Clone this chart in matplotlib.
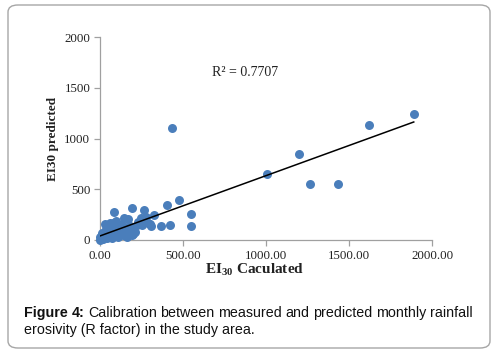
import matplotlib
matplotlib.use("Agg")
import matplotlib.pyplot as plt
from matplotlib.patches import FancyBboxPatch
import numpy as np

# Data (EI30 calculated vs predicted)
x_calc = [1890, 1620, 1199, 1008, 1263, 1436, 436,
          476, 405, 546, 546, 420, 368, 310, 267, 325, 191, 84, 144, 171,
          244, 211, 290, 251, 30, 78, 90,
          0, 5, 15, 20, 25, 30, 40, 45, 50, 55, 60, 65, 70, 75, 80, 90,
          100, 105, 110, 120, 130, 140, 150, 160, 170, 180, 190, 200, 220,
          230, 260, 280, 300, 125, 95, 60, 35, 15, 0, 10, 200]
y_pred = [1240, 1130, 844, 650, 555, 555, 1100,
          394, 345, 256, 136, 148, 135, 135, 299, 250, 315, 279, 214, 206,
          213, 76, 170, 150, 155, 170, 130,
          0, 10, 20, 5, 40, 60, 20, 90, 110, 50, 30, 140, 100, 15, 60, 40,
          80, 120, 25, 60, 100, 50, 130, 30, 90, 140, 50, 110, 150,
          180, 200, 230, 160, 150, 185, 170, 110, 70, 30, 40, 60]
fit_slope = 0.594
fit_intercept = 40
fit_x = [0, 1890]
r2_text = "R² = 0.7707"
x_ticks = [0, 500, 1000, 1500, 2000]
y_ticks = [0, 500, 1000, 1500, 2000]
caption_line1 = "Figure 4: Calibration between measured and predicted monthly rainfall"
caption_line2 = "erosivity (R factor) in the study area."

W, H = 499, 353
fig = plt.figure(figsize=(W / 100, H / 100), dpi=100)
fig.patch.set_facecolor("white")

plt.rcParams["mathtext.fontset"] = "custom"
plt.rcParams["mathtext.rm"] = "Liberation Serif"
plt.rcParams["mathtext.bf"] = "Liberation Serif:bold"

# outer rounded frame
frame = FancyBboxPatch((8 / W, 5 / H), (490 - 8) / W, (348 - 5) / H,
                       boxstyle="round,pad=0,rounding_size=0.02",
                       transform=fig.transFigure, facecolor="none",
                       edgecolor="#a6a6a6", linewidth=1.0)
fig.patches.append(frame)

ax = fig.add_axes([100 / W, (H - 240) / H, 332 / W, 203 / H])
ax.scatter(x_calc, y_pred, s=42, color="#4a7ebb", zorder=3, clip_on=False,
           linewidths=0)
fx = np.array(fit_x, dtype=float)
ax.plot(fx, fit_slope * fx + fit_intercept, color="black", lw=1.1, zorder=4)

ax.set_xlim(0, 2000)
ax.set_ylim(0, 2000)
ax.set_xticks(x_ticks)
ax.set_xticklabels([f"{v:.2f}" for v in x_ticks])
ax.set_yticks(y_ticks)
ax.set_yticklabels([str(v) for v in y_ticks])
for s in ["top", "right"]:
    ax.spines[s].set_visible(False)
for s in ["left", "bottom"]:
    ax.spines[s].set_color("#a0a0a0")
    ax.spines[s].set_linewidth(0.9)
ax.tick_params(axis="both", colors="#a0a0a0", length=4, width=0.9,
               labelcolor="#222222", labelsize=9.3, pad=3)
for lab in ax.get_xticklabels() + ax.get_yticklabels():
    lab.set_family("Liberation Serif")

ax.text(675, 1650, r2_text, family="Liberation Serif", fontsize=10,
        color="#222222", va="center", ha="left")

fig.text(255 / W, 1 - 270 / H, r"EI$_\mathbf{30}$ Caculated",
         family="Liberation Serif", fontweight="bold", fontsize=11,
         ha="center", va="center", color="#222222")
fig.text(53 / W, 1 - 139 / H, "EI30 predicted", family="Liberation Serif",
         fontweight="bold", fontsize=9.5, rotation=90, ha="center",
         va="center", color="#222222")

# caption, justified first line
words = caption_line1.split(" ")
left_px, right_px = 24, 473
renderer = fig.canvas.get_renderer()
texts = []
for i, w in enumerate(words):
    wt = "bold" if i < 2 else "normal"
    t = fig.text(0, 1 - 313 / H, w, family="Liberation Sans", fontweight=wt,
                 fontsize=10.3, ha="left", va="center", color="#111111")
    texts.append(t)
widths = [t.get_window_extent(renderer).width for t in texts]
gap = (right_px - left_px - sum(widths)) / (len(words) - 1)
xp = left_px
for t, wd in zip(texts, widths):
    t.set_x(xp / W)
    xp += wd + gap
fig.text(left_px / W, 1 - 330 / H, caption_line2,
         family="Liberation Sans", fontsize=10.3, ha="left", va="center",
         color="#111111")

fig.savefig("out.png", dpi=100, facecolor="white")
